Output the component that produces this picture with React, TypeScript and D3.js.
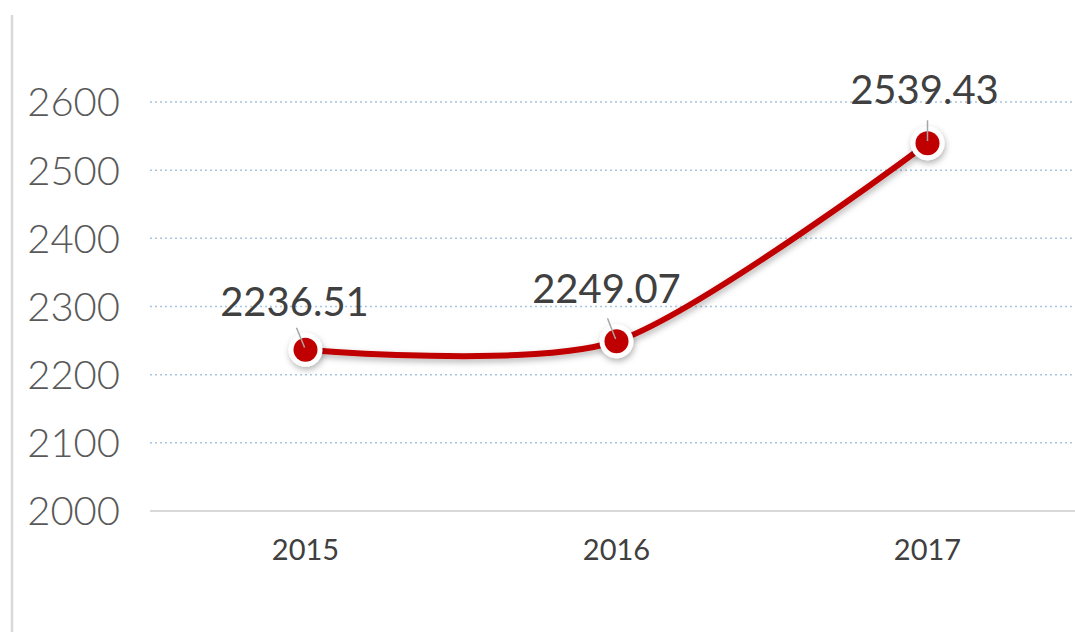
import * as d3 from "d3";
import { useEffect, useRef } from "react";

const years = ["2015", "2016", "2017"];
const values = [2236.51, 2249.07, 2539.43];
const yTicks = [2000, 2100, 2200, 2300, 2400, 2500, 2600];

function App() {
  const ref = useRef<SVGSVGElement>(null);

  useEffect(() => {
    const width = 1075,
      height = 632;
    const svg = d3.select(ref.current);
    svg.selectAll("*").remove();

    const defs = svg.append("defs");
    const shadow = defs
      .append("filter")
      .attr("id", "shadow")
      .attr("x", "-50%")
      .attr("y", "-50%")
      .attr("width", "200%")
      .attr("height", "200%");
    shadow
      .append("feDropShadow")
      .attr("dx", 1)
      .attr("dy", 3)
      .attr("stdDeviation", 3)
      .attr("flood-color", "#000")
      .attr("flood-opacity", 0.3);

    // left border line
    svg
      .append("line")
      .attr("x1", 12)
      .attr("x2", 12)
      .attr("y1", 15)
      .attr("y2", height)
      .attr("stroke", "#d9d9d9")
      .attr("stroke-width", 2.5);

    const x = d3.scalePoint().domain(years).range([150, 1083]).padding(0.5);
    const y = d3.scaleLinear().domain([2000, 2600]).range([511, 102]);

    // grid lines
    svg
      .append("g")
      .selectAll("line")
      .data(yTicks.filter((d) => d > 2000))
      .join("line")
      .attr("x1", 150)
      .attr("x2", width)
      .attr("y1", (d) => y(d))
      .attr("y2", (d) => y(d))
      .attr("stroke", "#a9c4e0")
      .attr("stroke-width", 1.5)
      .attr("stroke-dasharray", "2,3");

    // x axis line
    svg
      .append("line")
      .attr("x1", 150)
      .attr("x2", width)
      .attr("y1", y(2000))
      .attr("y2", y(2000))
      .attr("stroke", "#d9d9d9")
      .attr("stroke-width", 2);

    // y labels
    svg
      .append("g")
      .selectAll("text")
      .data(yTicks)
      .join("text")
      .attr("x", 120)
      .attr("y", (d) => y(d))
      .attr("dy", "0.36em")
      .attr("text-anchor", "end")
      .style("font-family", "Lato, 'Open Sans', sans-serif")
      .style("font-weight", 300)
      .style("font-size", "40px")
      .style("fill", "#595959")
      .text((d) => d);

    // x labels
    svg
      .append("g")
      .selectAll("text")
      .data(years)
      .join("text")
      .attr("x", (d) => x(d)!)
      .attr("y", 560)
      .attr("text-anchor", "middle")
      .style("font-family", "Lato, 'Open Sans', sans-serif")
      .style("font-size", "29px")
      .style("fill", "#404040")
      .text((d) => d);

    const pts = years.map((yr, i) => ({ year: yr, value: values[i] }));

    const line = d3
      .line<{ year: string; value: number }>()
      .x((d) => x(d.year)!)
      .y((d) => y(d.value))
      .curve(d3.curveCardinal.tension(0.2));

    svg
      .append("path")
      .datum(pts)
      .attr("d", line)
      .attr("fill", "none")
      .attr("stroke", "#c00000")
      .attr("stroke-width", 6)
      .attr("stroke-linecap", "round")
      .attr("filter", "url(#shadow)");

    // leader lines
    const leader = [
      { dx: -9, dy: -22 },
      { dx: -9, dy: -23 },
      { dx: 0, dy: -23 },
    ];

    const marks = svg.append("g");
    marks
      .selectAll("circle.outer")
      .data(pts)
      .join("circle")
      .attr("class", "outer")
      .attr("cx", (d) => x(d.year)!)
      .attr("cy", (d) => y(d.value))
      .attr("r", 17)
      .attr("fill", "#ffffff")
      .attr("filter", "url(#shadow)");
    marks
      .selectAll("circle.inner")
      .data(pts)
      .join("circle")
      .attr("class", "inner")
      .attr("cx", (d) => x(d.year)!)
      .attr("cy", (d) => y(d.value))
      .attr("r", 12)
      .attr("fill", "#c00000");

    marks
      .selectAll("line")
      .data(pts)
      .join("line")
      .attr("x1", (d, i) => x(d.year)! + leader[i].dx * 0.1)
      .attr("y1", (d, i) => y(d.value) + leader[i].dy * 0.1)
      .attr("x2", (d, i) => x(d.year)! + leader[i].dx)
      .attr("y2", (d, i) => y(d.value) + leader[i].dy)
      .attr("stroke", "#a6a6a6")
      .attr("stroke-width", 1.5);

    // data labels
    const labelOffset = [
      { dx: -11, dy: -34 },
      { dx: -10, dy: -38 },
      { dx: -3, dy: -39 },
    ];
    svg
      .append("g")
      .selectAll("text")
      .data(pts)
      .join("text")
      .attr("x", (d, i) => x(d.year)! + labelOffset[i].dx)
      .attr("y", (d, i) => y(d.value) + labelOffset[i].dy)
      .attr("text-anchor", "middle")
      .style("font-family", "Lato, 'Open Sans', sans-serif")
      .style("font-size", "40px")
      .style("fill", "#404040")
      .text((d) => d.value.toFixed(2));
  }, []);

  return (
    <svg
      ref={ref}
      width={1075}
      height={632}
      style={{ position: "absolute", left: 0, top: 0, background: "#fff" }}
    />
  );
}

export default App;
